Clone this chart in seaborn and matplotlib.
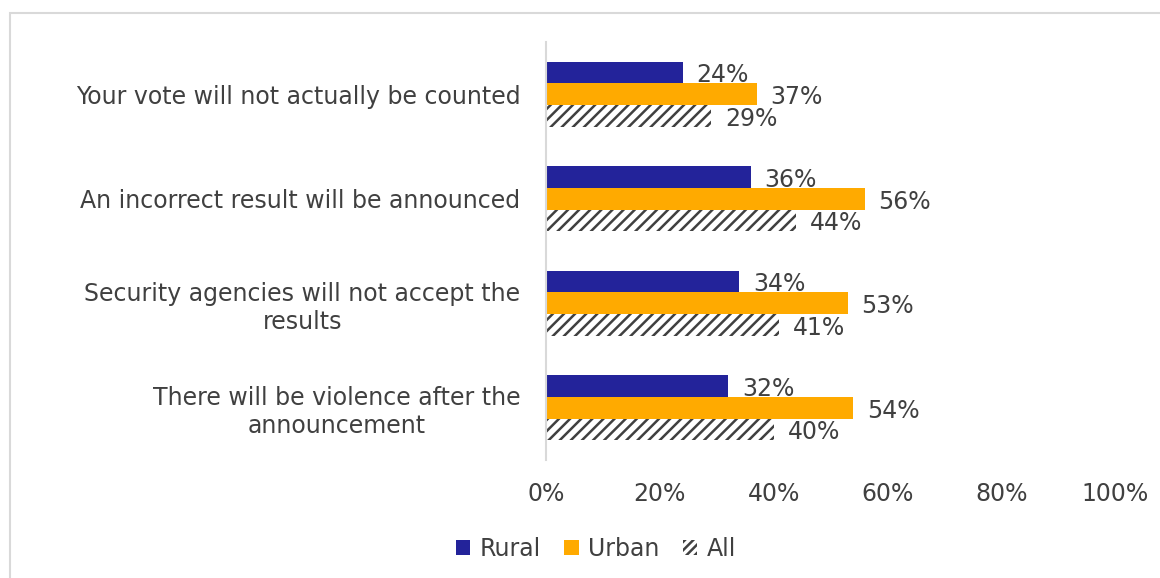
import matplotlib
matplotlib.use("Agg")
import matplotlib.pyplot as plt
from matplotlib.patches import Patch, Rectangle
import seaborn as sns
import pandas as pd

categories = [
    "Your vote will not actually be counted",
    "An incorrect result will be announced",
    "Security agencies will not accept the\nresults",
    "There will be violence after the\nannouncement",
]
groups = ["Rural", "Urban", "All"]
rural = [24, 36, 34, 32]
urban = [37, 56, 53, 54]
all_resp = [29, 44, 41, 40]
x_ticks = [0, 20, 40, 60, 80, 100]

colors = {"Rural": "#23239A", "Urban": "#FFAA00", "All": "#FFFFFF"}
text_color = "#404040"
hatch_color = "#404040"
fs = 17

rows = []
for series_name, vals in zip(groups, [rural, urban, all_resp]):
    for cat, v in zip(categories, vals):
        rows.append({"category": cat, "group": series_name, "value": v})
df = pd.DataFrame(rows)

sns.set_theme(style="white")
plt.rcParams["font.family"] = ["DejaVu Sans"]
plt.rcParams["hatch.linewidth"] = 1.8

fig = plt.figure(figsize=(11.6, 5.78), dpi=100)
ax = fig.add_axes([546 / 1160, 1 - 460 / 578, (1115 - 546) / 1160, (460 - 42) / 578])

sns.barplot(
    data=df, y="category", x="value", hue="group", orient="h",
    palette=colors, hue_order=groups, order=categories,
    width=0.62, gap=0, saturation=1, legend=False, ax=ax,
    linewidth=0,
)

# hatched styling for the "All" series
for bar in ax.containers[2]:
    bar.set_facecolor("white")
    bar.set_edgecolor(hatch_color)
    bar.set_hatch("///")
    bar.set_linewidth(0)

for cont, vals in zip(ax.containers, [rural, urban, all_resp]):
    anns = ax.bar_label(cont, labels=[f"{v}%" for v in vals], padding=10,
                        fontsize=fs, color=text_color)
    for a in anns:
        a.xyann = (10, -2)

ax.set_xlim(0, 100)
ax.set_ylim(3.5, -0.5)
ax.set_xticks(x_ticks)
ax.set_xticklabels([f"{t}%" for t in x_ticks])
ax.set_xlabel("")
ax.set_ylabel("")
ax.tick_params(axis="x", length=0, pad=16, labelsize=fs, labelcolor=text_color)
ax.tick_params(axis="y", length=0, pad=18.5, labelsize=fs, labelcolor=text_color)
for lbl in ax.get_yticklabels():
    lbl.set_multialignment("center")

for side in ["top", "right", "bottom"]:
    ax.spines[side].set_visible(False)
ax.spines["left"].set_color("#D9D9D9")
ax.spines["left"].set_linewidth(1.5)
ax.grid(False)

handles = [
    Patch(facecolor=colors["Rural"], edgecolor="none", label="Rural"),
    Patch(facecolor=colors["Urban"], edgecolor="none", label="Urban"),
    Patch(facecolor="white", edgecolor=hatch_color, hatch="////", linewidth=0, label="All"),
]
fig.legend(handles=handles, loc="center", bbox_to_anchor=(596 / 1160, 1 - 549 / 578),
           ncol=3, frameon=False, fontsize=fs, handlelength=0.6, handleheight=0.6,
           handletextpad=0.4, columnspacing=1.0, labelcolor=text_color)

fig.patches.append(Rectangle((10 / 1160, -0.1), 2, 1 - 13 / 578 + 0.1,
                             transform=fig.transFigure, fill=False,
                             edgecolor="#D9D9D9", linewidth=1.5, clip_on=False))

fig.savefig("out.png", dpi=100, facecolor="white")
